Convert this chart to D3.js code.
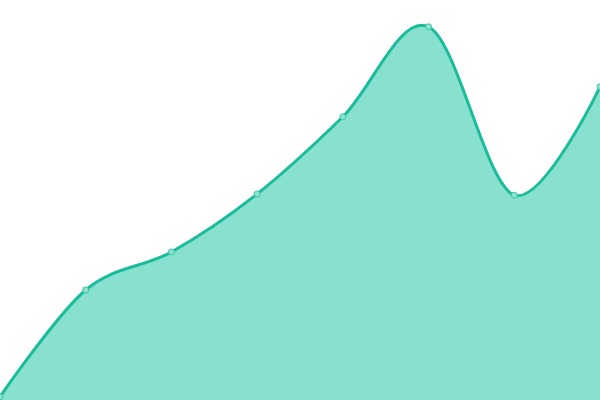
<!DOCTYPE html>
<html>
<head>
<meta charset="utf-8">
<script src="https://cdn.jsdelivr.net/npm/d3@7"></script>
<style>
  body { margin: 0; background: #fff; }
</style>
</head>
<body>
<div id="chart"></div>
<script>
var w = 600;
var h = 400;

// one value per point, left to right
var categories = [0, 1, 2, 3, 4, 5, 6, 7];
var values = [0.8, 27.5, 37, 51.5, 70.8, 93.3, 51.2, 78.3];

var svg = d3.select("#chart")
    .append("svg")
    .attr("width", w)
    .attr("height", h);

var xScale = d3.scaleLinear()
    .domain([0, categories.length - 1])
    .range([0, w]);

var yScale = d3.scaleLinear()
    .domain([0, 100])
    .range([h, 0]);

var area = d3.area()
    .x(function (d, i) { return xScale(categories[i]); })
    .y0(h)
    .y1(function (d) { return yScale(d); })
    .curve(d3.curveCardinal);

var line = d3.line()
    .x(function (d, i) { return xScale(categories[i]); })
    .y(function (d) { return yScale(d); })
    .curve(d3.curveCardinal);

svg.append("path")
    .datum(values)
    .attr("d", area)
    .attr("fill", "#88e0ce");

svg.append("path")
    .datum(values)
    .attr("d", line)
    .attr("fill", "none")
    .attr("stroke", "#1abc9c")
    .attr("stroke-width", 3);

svg.selectAll("circle")
    .data(values)
    .join("circle")
    .attr("cx", function (d, i) { return xScale(categories[i]); })
    .attr("cy", function (d) { return yScale(d); })
    .attr("r", 3)
    .attr("fill", "#8fe2d0")
    .attr("stroke", "#3cc4a8")
    .attr("stroke-width", 1);
</script>
</body>
</html>
